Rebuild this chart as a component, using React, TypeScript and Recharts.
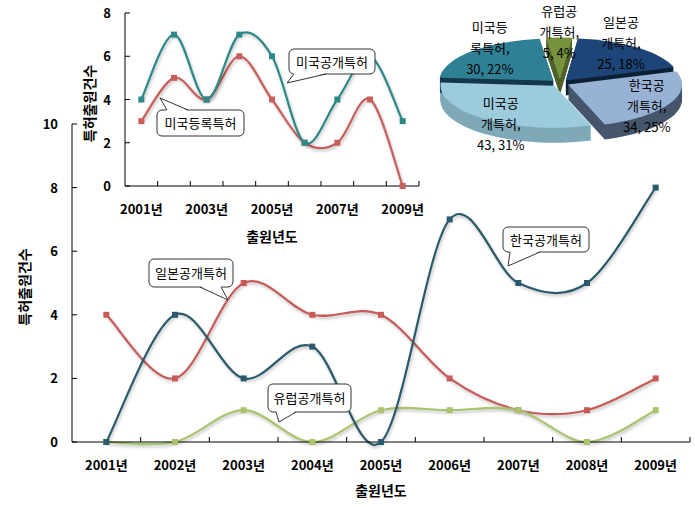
import React from "react";
import { LineChart, Line, XAxis, YAxis, PieChart, Pie, Sector, Tooltip } from "recharts";

// data
const years = ["2001년", "2002년", "2003년", "2004년", "2005년", "2006년", "2007년", "2008년", "2009년"];
const korea = [0, 4, 2, 3, 0, 7, 5, 5, 8];
const japan = [4, 2, 5, 4, 4, 2, 1, 1, 2];
const europe = [0, 0, 1, 0, 1, 1, 1, 0, 1];
const usPub = [4, 7, 4, 7, 6, 2, 4, 6, 3];
const usReg = [3, 5, 4, 6, 4, 2, 2, 4, 0];

const pieNames = ["유럽공개특허", "일본공개특허", "한국공개특허", "미국공개특허", "미국등록특허"];
const pieValues = [5, 25, 34, 43, 30];
const pieTop = ["#76923c", "#1d4577", "#98b2d6", "#9ccbdb", "#2f7f95"];
const pieSide = ["#4f6228", "#0d2136", "#46566c", "#7fa9b8", "#14384a"];

const mainTicks = [0, 2, 4, 6, 8, 10];
const insetTicks = [0, 2, 4, 6, 8];

const FONT = "'Noto Sans CJK KR', 'Noto Sans', sans-serif";
const RAD = Math.PI / 180;
const TILT = 0.37;
const DEPTH = 15;
const EXPLODE = 9;
const LABEL_RX = 0.85;
const LABEL_RY = 0.45;
const MAIN_PAD = 34.33;
const INSET_PAD = 16.33;

const mainData = years.map((year, i) => ({ year, korea: korea[i], japan: japan[i], europe: europe[i] }));
const insetData = years.map((year, i) => ({ year, usPub: usPub[i], usReg: usReg[i] }));
const pieData = pieNames.map((name, i) => ({ name, value: pieValues[i], top: pieTop[i], side: pieSide[i] }));

// excel style smoothing (catmull-rom through the points)
function excelSmooth(context: any) {
  let pts: number[][] = [];
  return {
    areaStart() {},
    areaEnd() {},
    lineStart() {
      pts = [];
    },
    point(x: number, y: number) {
      pts.push([+x, +y]);
    },
    lineEnd() {
      if (!pts.length) return;
      context.moveTo(pts[0][0], pts[0][1]);
      for (let i = 0; i < pts.length - 1; i++) {
        const p0 = pts[i - 1] || pts[i];
        const p1 = pts[i];
        const p2 = pts[i + 1];
        const p3 = pts[i + 2] || p2;
        context.bezierCurveTo(
          p1[0] + (p2[0] - p0[0]) / 6,
          p1[1] + (p2[1] - p0[1]) / 6,
          p2[0] - (p3[0] - p1[0]) / 6,
          p2[1] - (p3[1] - p1[1]) / 6,
          p2[0],
          p2[1]
        );
      }
    },
  };
}

const squareDot = (color: string) => (props: any) => {
  const { cx, cy, index } = props;
  if (cx == null || cy == null) return <g key={`d${index}`} />;
  return <rect key={`d${index}`} x={cx - 3} y={cy - 3} width={6} height={6} fill={color} />;
};

const makeXTick = (half: number, every: number) => (props: any) => {
  const { x, y, payload, index } = props;
  return (
    <g>
      <line x1={x + half} x2={x + half} y1={y} y2={y - 5} stroke="#000" />
      {index % every === 0 && (
        <text x={x} y={y + 28} textAnchor="middle" fontSize={13} fontWeight="bold" fill="#000" fontFamily={FONT}>
          {payload.value}
        </text>
      )}
    </g>
  );
};

const YTick = (props: any) => {
  const { x, y, payload } = props;
  return (
    <g>
      <line x1={x} x2={x + 5} y1={y} y2={y} stroke="#000" />
      <text x={x - 14} y={y + 5} textAnchor="end" fontSize={13} fontWeight="bold" fill="#000" fontFamily={FONT}>
        {payload.value}
      </text>
    </g>
  );
};

const yTitle = (offsetX: number) => (p: any) => {
  const vb = p.viewBox || { x: 0, y: 0, width: 0, height: 0 };
  const x = vb.x + offsetX;
  const y = vb.y + vb.height / 2 + 4;
  return (
    <text x={x} y={y} transform={`rotate(-90 ${x} ${y})`} dy={5} textAnchor="middle" fontSize={14} fontWeight="bold" fill="#000" fontFamily={FONT}>
      특허출원건수
    </text>
  );
};

const xTitle = (offsetY: number) => (p: any) => {
  const vb = p.viewBox || { x: 0, y: 0, width: 0, height: 0 };
  return (
    <text x={vb.x + vb.width / 2} y={vb.y + offsetY} textAnchor="middle" fontSize={14} fontWeight="bold" fill="#000" fontFamily={FONT}>
      출원년도
    </text>
  );
};

const squash = (cy: number, shift: number) => `translate(0 ${cy + shift}) scale(1 ${TILT}) translate(0 ${-cy})`;

const SideSlice = (p: any) => {
  const side = p.payload?.side ?? p.side;
  const ex = EXPLODE * Math.cos(-p.midAngle * RAD);
  const ey = EXPLODE * Math.sin(-p.midAngle * RAD);
  const layers = [];
  for (let d = DEPTH; d >= 1; d--) layers.push(d);
  return (
    <g>
      {layers.map((d) => (
        <g key={d} transform={squash(p.cy, d)}>
          <Sector cx={p.cx + ex} cy={p.cy + ey} innerRadius={0} outerRadius={p.outerRadius} startAngle={p.startAngle} endAngle={p.endAngle} fill={side} stroke="none" />
        </g>
      ))}
    </g>
  );
};

const TopSlice = (p: any) => {
  const top = p.payload?.top ?? p.top;
  const ex = EXPLODE * Math.cos(-p.midAngle * RAD);
  const ey = EXPLODE * Math.sin(-p.midAngle * RAD);
  return (
    <g transform={squash(p.cy, 0)}>
      <Sector cx={p.cx + ex} cy={p.cy + ey} innerRadius={0} outerRadius={p.outerRadius} startAngle={p.startAngle} endAngle={p.endAngle} fill={top} stroke="none" />
    </g>
  );
};

const pieLabel = (p: any) => {
  const x = p.cx + p.outerRadius * LABEL_RX * Math.cos(-p.midAngle * RAD);
  const y = p.cy + p.outerRadius * LABEL_RY * Math.sin(-p.midAngle * RAD);
  const name: string = p.name;
  const lines = [name.slice(0, 3), name.slice(3) + ",", `${p.value}, ${Math.round(p.percent * 100)}%`];
  return (
    <text key={`l${p.index}`} x={x} y={y} textAnchor="middle" fontSize={13} fill="#000" fontFamily={FONT}>
      {lines.map((t, i) => (
        <tspan key={i} x={x} y={y + (i - 1) * 21 + 5}>
          {t}
        </tspan>
      ))}
    </text>
  );
};

// callout boxes: box, tail base on an edge, tail tip
const callouts = [
  { text: "일본공개특허", x: 149, y: 259, w: 84, h: 28, edge: "bottom", b1: 200, b2: 221, tx: 228, ty: 300 },
  { text: "유럽공개특허", x: 268, y: 384, w: 83, h: 28, edge: "bottom", b1: 276, b2: 296, tx: 279, ty: 422 },
  { text: "한국공개특허", x: 503, y: 227, w: 86, h: 25, edge: "bottom", b1: 510, b2: 540, tx: 508, ty: 266 },
  { text: "미국공개특허", x: 289, y: 49, w: 86, h: 25, edge: "bottom", b1: 294, b2: 326, tx: 287, ty: 83 },
  { text: "미국등록특허", x: 157, y: 110, w: 87, h: 26, edge: "top", b1: 167, b2: 188, tx: 160, ty: 98 },
];

function Callouts() {
  return (
    <svg width={695} height={507} style={{ position: "absolute", left: 0, top: 0, pointerEvents: "none" }}>
      {callouts.map((c) => {
        const ey = c.edge === "bottom" ? c.y + c.h : c.y;
        const inner = c.edge === "bottom" ? ey - 1 : ey + 1;
        return (
          <g key={c.text}>
            <rect x={c.x} y={c.y} width={c.w} height={c.h} rx={5} fill="#fff" stroke="#333" strokeWidth={1} />
            <polygon points={`${c.b1},${inner} ${c.tx},${c.ty} ${c.b2},${inner}`} fill="#fff" stroke="none" />
            <polyline points={`${c.b1},${ey} ${c.tx},${c.ty} ${c.b2},${ey}`} fill="none" stroke="#333" strokeWidth={1} />
            <text x={c.x + c.w / 2} y={c.y + c.h / 2 + 5} textAnchor="middle" fontSize={13} fill="#000" fontFamily={FONT}>
              {c.text}
            </text>
          </g>
        );
      })}
    </svg>
  );
}

export default function App() {
  return (
    <div style={{ position: "absolute", left: 0, top: 0, width: 695, height: 507, background: "#fff", fontFamily: FONT }}>
      <style>{".lines .recharts-line { filter: drop-shadow(1px 2px 1.5px rgba(0,0,0,0.25)); }"}</style>
      <div className="lines" style={{ position: "absolute", left: 0, top: 0 }}>
        <LineChart width={695} height={507} data={mainData} margin={{ top: 124, right: 5, bottom: 0, left: 0 }}>
          <XAxis
            dataKey="year"
            height={65}
            padding={{ left: MAIN_PAD, right: MAIN_PAD }}
            interval={0}
            tickSize={0}
            tickMargin={0}
            tickLine={false}
            axisLine={{ stroke: "#000" }}
            tick={makeXTick(MAIN_PAD, 1)}
            label={xTitle(54)}
          />
          <YAxis
            width={72}
            domain={[0, 10]}
            ticks={mainTicks}
            interval={0}
            tickSize={0}
            tickMargin={0}
            tickLine={false}
            axisLine={{ stroke: "#000" }}
            tick={YTick}
            label={yTitle(25)}
          />
          <Line dataKey="japan" type={excelSmooth as any} stroke="#c85a58" strokeWidth={2.2} dot={squareDot("#c85a58")} isAnimationActive={false} />
          <Line dataKey="europe" type={excelSmooth as any} stroke="#a9c46c" strokeWidth={2.2} dot={squareDot("#a9c46c")} isAnimationActive={false} />
          <Line dataKey="korea" type={excelSmooth as any} stroke="#2a5a6c" strokeWidth={2.2} dot={squareDot("#2a5a6c")} isAnimationActive={false} />
        </LineChart>
      </div>
      <div className="lines" style={{ position: "absolute", left: 0, top: 0 }}>
        <LineChart width={430} height={250} data={insetData} margin={{ top: 13, right: 11, bottom: 0, left: 0 }}>
          <XAxis
            dataKey="year"
            height={64}
            padding={{ left: INSET_PAD, right: INSET_PAD }}
            interval={0}
            tickSize={0}
            tickMargin={0}
            tickLine={false}
            axisLine={{ stroke: "#000" }}
            tick={makeXTick(INSET_PAD, 2)}
            label={xTitle(56)}
          />
          <YAxis
            width={125}
            domain={[0, 8]}
            ticks={insetTicks}
            interval={0}
            tickSize={0}
            tickMargin={0}
            tickLine={false}
            axisLine={{ stroke: "#000" }}
            tick={YTick}
            label={yTitle(90)}
          />
          <Line dataKey="usReg" type={excelSmooth as any} stroke="#c95f5b" strokeWidth={2.2} dot={squareDot("#c95f5b")} isAnimationActive={false} />
          <Line dataKey="usPub" type={excelSmooth as any} stroke="#2b8987" strokeWidth={2.2} dot={squareDot("#2b8987")} isAnimationActive={false} />
        </LineChart>
      </div>
      <div style={{ position: "absolute", left: 430, top: 0 }}>
        <PieChart width={265} height={160} margin={{ top: 0, right: 0, bottom: 0, left: 0 }}>
          <Pie
            data={pieData}
            dataKey="value"
            nameKey="name"
            cx={130}
            cy={83}
            outerRadius={114}
            startAngle={97}
            endAngle={-263}
            stroke="none"
            shape={SideSlice}
            activeShape={SideSlice}
            inactiveShape={SideSlice}
            isAnimationActive={false}
          />
          <Pie
            data={pieData}
            dataKey="value"
            nameKey="name"
            cx={130}
            cy={83}
            outerRadius={114}
            startAngle={97}
            endAngle={-263}
            stroke="none"
            shape={TopSlice}
            activeShape={TopSlice}
            inactiveShape={TopSlice}
            label={pieLabel}
            labelLine={false}
            isAnimationActive={false}
          />
          <Tooltip defaultIndex={0} content={() => null} cursor={false} />
        </PieChart>
      </div>
      <Callouts />
    </div>
  );
}
